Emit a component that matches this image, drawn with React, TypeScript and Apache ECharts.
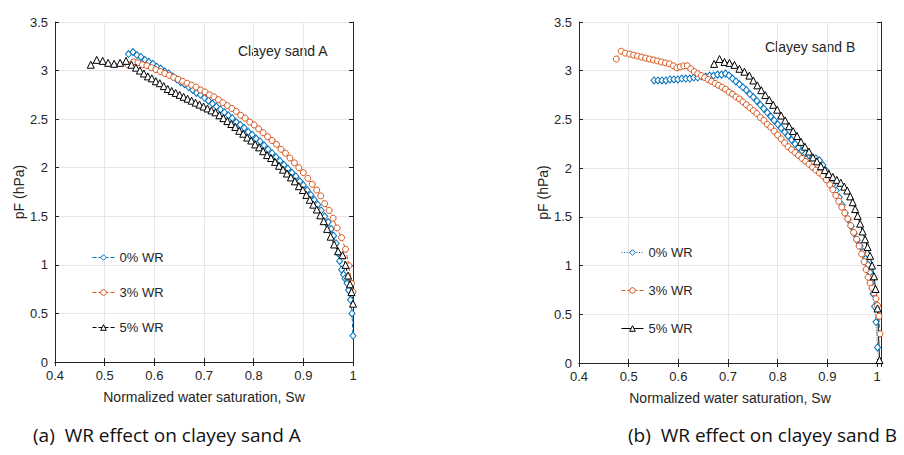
import React, { useEffect, useRef } from "react";
import * as echarts from "echarts";

// ---------- data: (Sw, pF) ----------
// Plot (a) clayey sand A
const A_WR0: [number, number][] = [
  [0.548, 3.17], [0.557, 3.19], [0.565, 3.16], [0.573, 3.14], [0.581, 3.11], [0.589, 3.09], [0.597, 3.07],
  [0.605, 3.04], [0.613, 3.02], [0.621, 2.99], [0.629, 2.97], [0.637, 2.94], [0.645, 2.91], [0.653, 2.88],
  [0.661, 2.86], [0.669, 2.83], [0.677, 2.8], [0.685, 2.77], [0.693, 2.75], [0.701, 2.72], [0.709, 2.69],
  [0.717, 2.66], [0.725, 2.63], [0.733, 2.6], [0.741, 2.57], [0.749, 2.54], [0.757, 2.51], [0.765, 2.47],
  [0.773, 2.44], [0.781, 2.41], [0.789, 2.37], [0.797, 2.34], [0.805, 2.3], [0.813, 2.27], [0.821, 2.23],
  [0.829, 2.19], [0.837, 2.15], [0.845, 2.11], [0.853, 2.07], [0.861, 2.03], [0.869, 1.99], [0.877, 1.95],
  [0.885, 1.91], [0.893, 1.86], [0.9, 1.82], [0.908, 1.77], [0.915, 1.72], [0.922, 1.67], [0.929, 1.62],
  [0.936, 1.56], [0.943, 1.5], [0.95, 1.44], [0.956, 1.37], [0.961, 1.3], [0.966, 1.22], [0.97, 1.12],
  [0.973, 1.04], [0.977, 0.95], [0.981, 0.9], [0.984, 0.86], [0.988, 0.81], [0.991, 0.74], [0.995, 0.64],
  [0.998, 0.5], [1.0, 0.27],
];
const A_WR3: [number, number][] = [
  [0.547, 3.06], [0.558, 3.09], [0.567, 3.08], [0.576, 3.06], [0.585, 3.05], [0.594, 3.03], [0.603, 3.01],
  [0.612, 2.99], [0.621, 2.97], [0.63, 2.95], [0.639, 2.93], [0.648, 2.91], [0.657, 2.89], [0.666, 2.87],
  [0.675, 2.85], [0.684, 2.83], [0.693, 2.8], [0.702, 2.78], [0.711, 2.75], [0.72, 2.73], [0.729, 2.7],
  [0.738, 2.67], [0.747, 2.64], [0.756, 2.61], [0.765, 2.58], [0.774, 2.54], [0.783, 2.51], [0.792, 2.47],
  [0.801, 2.44], [0.81, 2.4], [0.819, 2.36], [0.828, 2.32], [0.837, 2.28], [0.846, 2.24], [0.855, 2.19],
  [0.864, 2.15], [0.873, 2.1], [0.882, 2.05], [0.891, 2.0], [0.9, 1.95], [0.909, 1.89], [0.918, 1.83],
  [0.927, 1.77], [0.935, 1.71], [0.943, 1.63], [0.952, 1.56], [0.96, 1.48], [0.968, 1.38], [0.977, 1.28],
  [0.985, 1.16], [0.992, 0.99], [0.997, 0.81], [1.0, 0.72],
];
const A_WR5: [number, number][] = [
  [0.472, 3.06], [0.484, 3.11], [0.496, 3.1], [0.507, 3.08], [0.519, 3.07], [0.531, 3.08], [0.543, 3.1],
  [0.554, 3.06], [0.563, 3.03], [0.571, 3.0], [0.579, 2.97], [0.587, 2.94], [0.595, 2.92], [0.603, 2.89],
  [0.611, 2.87], [0.619, 2.84], [0.627, 2.81], [0.635, 2.79], [0.643, 2.77], [0.651, 2.75], [0.659, 2.73],
  [0.667, 2.71], [0.675, 2.69], [0.683, 2.67], [0.691, 2.65], [0.699, 2.63], [0.707, 2.61], [0.715, 2.59],
  [0.723, 2.57], [0.731, 2.54], [0.739, 2.51], [0.747, 2.48], [0.755, 2.45], [0.763, 2.42], [0.771, 2.38],
  [0.779, 2.35], [0.787, 2.31], [0.795, 2.28], [0.803, 2.24], [0.811, 2.21], [0.819, 2.17], [0.827, 2.13],
  [0.835, 2.1], [0.843, 2.06], [0.851, 2.02], [0.859, 1.98], [0.867, 1.94], [0.875, 1.9], [0.883, 1.86],
  [0.891, 1.81], [0.899, 1.77], [0.906, 1.72], [0.913, 1.67], [0.92, 1.62], [0.927, 1.57], [0.934, 1.51],
  [0.941, 1.45], [0.948, 1.37], [0.955, 1.29], [0.962, 1.21], [0.97, 1.14], [0.979, 1.1], [0.985, 1.0],
  [0.99, 0.89], [0.994, 0.8], [0.997, 0.72], [1.0, 0.6],
];

// Plot (b) clayey sand B
const B_WR0: [number, number][] = [
  [0.551, 2.9], [0.559, 2.9], [0.567, 2.9], [0.575, 2.9], [0.583, 2.91], [0.591, 2.91], [0.599, 2.91],
  [0.607, 2.92], [0.615, 2.92], [0.623, 2.92], [0.631, 2.93], [0.639, 2.93], [0.647, 2.94], [0.655, 2.94],
  [0.663, 2.95], [0.671, 2.95], [0.679, 2.96], [0.687, 2.96], [0.695, 2.97], [0.702, 2.95], [0.709, 2.92],
  [0.716, 2.89], [0.723, 2.86], [0.73, 2.83], [0.737, 2.8], [0.744, 2.76], [0.751, 2.73], [0.758, 2.69],
  [0.765, 2.65], [0.772, 2.61], [0.779, 2.57], [0.786, 2.53], [0.793, 2.49], [0.8, 2.45], [0.807, 2.41],
  [0.814, 2.37], [0.821, 2.33], [0.828, 2.29], [0.835, 2.25], [0.842, 2.21], [0.849, 2.18], [0.856, 2.15],
  [0.863, 2.13], [0.87, 2.11], [0.877, 2.1], [0.884, 2.08], [0.891, 2.03], [0.898, 1.97], [0.905, 1.91],
  [0.912, 1.84], [0.918, 1.77], [0.924, 1.7], [0.93, 1.62], [0.936, 1.54], [0.942, 1.47], [0.948, 1.4],
  [0.954, 1.33], [0.96, 1.26], [0.966, 1.2], [0.972, 1.14], [0.977, 1.07], [0.982, 1.01], [0.986, 0.93],
  [0.989, 0.83], [0.992, 0.71], [0.995, 0.58], [0.998, 0.42], [1.001, 0.16],
];
const B_WR3: [number, number][] = [
  [0.475, 3.12], [0.485, 3.2], [0.493, 3.18], [0.502, 3.17], [0.51, 3.16], [0.518, 3.15], [0.526, 3.14],
  [0.534, 3.13], [0.542, 3.12], [0.55, 3.11], [0.558, 3.1], [0.566, 3.09], [0.574, 3.08], [0.582, 3.07],
  [0.59, 3.05], [0.597, 3.03], [0.604, 3.04], [0.611, 3.05], [0.618, 3.05], [0.625, 3.02], [0.632, 2.99],
  [0.639, 2.97], [0.646, 2.95], [0.653, 2.93], [0.66, 2.91], [0.667, 2.89], [0.674, 2.87], [0.681, 2.85],
  [0.688, 2.83], [0.695, 2.81], [0.702, 2.78], [0.709, 2.76], [0.716, 2.73], [0.723, 2.71], [0.73, 2.68],
  [0.737, 2.65], [0.744, 2.62], [0.751, 2.59], [0.758, 2.56], [0.765, 2.52], [0.772, 2.49], [0.779, 2.45],
  [0.786, 2.42], [0.793, 2.38], [0.8, 2.34], [0.807, 2.3], [0.814, 2.26], [0.821, 2.22], [0.828, 2.19],
  [0.835, 2.16], [0.842, 2.13], [0.849, 2.1], [0.856, 2.07], [0.863, 2.04], [0.87, 2.01], [0.877, 1.98],
  [0.884, 1.95], [0.891, 1.92], [0.898, 1.88], [0.905, 1.83], [0.911, 1.78], [0.917, 1.72], [0.923, 1.66],
  [0.929, 1.6], [0.935, 1.54], [0.941, 1.48], [0.947, 1.41], [0.953, 1.34], [0.959, 1.27], [0.964, 1.2],
  [0.969, 1.12], [0.974, 1.04], [0.978, 0.96], [0.982, 0.88], [0.986, 0.82], [0.99, 0.77], [0.994, 0.72],
  [0.998, 0.66], [1.001, 0.59], [1.004, 0.48], [1.006, 0.3],
];
const B_WR5: [number, number][] = [
  [0.672, 3.07], [0.683, 3.12], [0.693, 3.09], [0.703, 3.08], [0.713, 3.06], [0.723, 3.02], [0.733, 2.99],
  [0.743, 2.95], [0.751, 2.9], [0.759, 2.85], [0.767, 2.8], [0.775, 2.75], [0.783, 2.7], [0.791, 2.65],
  [0.799, 2.6], [0.807, 2.54], [0.815, 2.49], [0.823, 2.43], [0.831, 2.38], [0.839, 2.33], [0.847, 2.27],
  [0.855, 2.22], [0.863, 2.17], [0.871, 2.11], [0.879, 2.07], [0.887, 2.02], [0.895, 1.98], [0.903, 1.94],
  [0.911, 1.91], [0.919, 1.88], [0.927, 1.85], [0.934, 1.81], [0.94, 1.77], [0.946, 1.71], [0.951, 1.65],
  [0.956, 1.58], [0.961, 1.51], [0.966, 1.43], [0.971, 1.35], [0.976, 1.27], [0.981, 1.19], [0.986, 1.1],
  [0.99, 1.0], [0.994, 0.89], [0.997, 0.76], [1.001, 0.56], [1.005, 0.03],
];

const LEGEND_LABELS = ["0% WR", "3% WR", "5% WR"];
const PANEL_TITLES = ["Clayey sand A", "Clayey sand B"];
const CAPTIONS = ["(a)  WR effect on clayey sand A", "(b)  WR effect on clayey sand B"];
const X_NAME = "Normalized water saturation, Sw";
const Y_NAME = "pF (hPa)";

const BLUE = "#0072BD";
const ORANGE = "#D95319";
const BLACK = "#000000";
const AXIS = "#262626";
const GRIDC = "#e6e6e6";
const FONT = "'Liberation Sans', Arial, Helvetica, sans-serif";
const CAP_FONT = "'Open Sans', 'Noto Sans', sans-serif";

function fmt(v: number) {
  if (v > 1.0001) return "";
  return String(+v.toFixed(2));
}

function xAxes(grid: number, max: number) {
  return [
    {
      gridIndex: grid, type: "value", min: 0.4, max, interval: 0.1, position: "bottom",
      name: X_NAME, nameLocation: "middle", nameGap: 28,
      nameTextStyle: { color: AXIS, fontSize: 14, fontFamily: FONT },
      axisLine: { show: true, lineStyle: { color: AXIS, width: 1 } },
      axisTick: { show: true, inside: true, length: 4, lineStyle: { color: AXIS } },
      axisLabel: { color: AXIS, fontSize: 13, fontFamily: FONT, margin: 7, formatter: fmt },
      splitLine: { show: true, lineStyle: { color: GRIDC, width: 1 } },
    },
    {
      gridIndex: grid, type: "value", min: 0.4, max, interval: 0.1, position: "top",
      axisLine: { show: true, lineStyle: { color: AXIS, width: 1 } },
      axisTick: { show: true, inside: true, length: 4, lineStyle: { color: AXIS } },
      axisLabel: { show: false },
      splitLine: { show: false },
    },
  ];
}

function yAxes(grid: number) {
  return [
    {
      gridIndex: grid, type: "value", min: 0, max: 3.5, interval: 0.5, position: "left",
      name: Y_NAME, nameLocation: "middle", nameGap: 26, nameRotate: 90,
      nameTextStyle: { color: AXIS, fontSize: 14, fontFamily: FONT },
      axisLine: { show: true, lineStyle: { color: AXIS, width: 1 } },
      axisTick: { show: true, inside: true, length: 4, lineStyle: { color: AXIS } },
      axisLabel: { color: AXIS, fontSize: 13, fontFamily: FONT, margin: 7 },
      splitLine: { show: true, lineStyle: { color: GRIDC, width: 1 } },
    },
    {
      gridIndex: grid, type: "value", min: 0, max: 3.5, interval: 0.5, position: "right",
      axisLine: { show: true, lineStyle: { color: AXIS, width: 1 } },
      axisTick: { show: true, inside: true, length: 4, lineStyle: { color: AXIS } },
      axisLabel: { show: false },
      splitLine: { show: false },
    },
  ];
}

function mkSeries(
  id: string, data: [number, number][], axis: number, color: string,
  symbol: string, size: number | number[], lineType: any
) {
  return {
    name: id, type: "line", xAxisIndex: axis, yAxisIndex: axis,
    data, symbol, symbolSize: size, showAllSymbol: true,
    lineStyle: { color, width: 1, type: lineType },
    itemStyle: { color: "#ffffff", borderColor: color, borderWidth: 1 },
    emphasis: { disabled: true },
    z: 3,
  };
}

export default function App() {
  const ref = useRef<HTMLDivElement>(null);
  useEffect(() => {
    if (!ref.current) return;
    const chart = echarts.init(ref.current, null, { renderer: "svg" });
    const names: Record<string, string> = {
      a0: LEGEND_LABELS[0], a3: LEGEND_LABELS[1], a5: LEGEND_LABELS[2],
      b0: LEGEND_LABELS[0], b3: LEGEND_LABELS[1], b5: LEGEND_LABELS[2],
    };
    const legendCommon = {
      orient: "vertical", itemWidth: 22, itemHeight: 7,
      textStyle: { color: AXIS, fontSize: 13, fontFamily: FONT },
      lineStyle: { width: 1 },
      itemStyle: { borderWidth: 1 },
      formatter: (n: string) => names[n],
      selectedMode: false,
    };
    chart.setOption({
      animation: false,
      backgroundColor: "#ffffff",
      grid: [
        { left: 55, top: 22, width: 298, height: 340, show: true, borderColor: AXIS, borderWidth: 0, backgroundColor: "#fff" },
        { left: 579, top: 22, width: 302, height: 341, show: true, borderColor: AXIS, borderWidth: 0, backgroundColor: "#fff" },
      ],
      xAxis: [...xAxes(0, 1.0), ...xAxes(1, 1.008)],
      yAxis: [...yAxes(0), ...yAxes(1)],
      legend: [
        { ...legendCommon, left: 87, top: 246, itemGap: 22, data: ["a0", "a3", "a5"] },
        { ...legendCommon, left: 616, top: 241, itemGap: 25, data: ["b0", "b3", "b5"] },
      ],
      series: [
        // panel a uses xAxis 0 / yAxis 0, panel b uses xAxis 2 / yAxis 2
        mkSeries("a0", A_WR0, 0, BLUE, "diamond", [6, 7], [4, 2]),
        mkSeries("a3", A_WR3, 0, ORANGE, "circle", 6, [4, 2]),
        mkSeries("a5", A_WR5, 0, BLACK, "triangle", 7, [4, 2]),
        mkSeries("b0", B_WR0, 2, BLUE, "diamond", [6, 7], [1, 1.5]),
        mkSeries("b3", B_WR3, 2, ORANGE, "circle", 6, [4, 2]),
        mkSeries("b5", B_WR5, 2, BLACK, "triangle", 7, "solid"),
      ],
      graphic: [
        { type: "text", left: 238, top: 44, style: { text: PANEL_TITLES[0], fill: AXIS, font: `14px ${FONT}` } },
        { type: "text", left: 765, top: 40, style: { text: PANEL_TITLES[1], fill: AXIS, font: `14px ${FONT}` } },
        { type: "text", left: 33, top: 425, style: { text: CAPTIONS[0], fill: "#111", font: `19px ${CAP_FONT}` } },
        { type: "text", left: 628, top: 425, style: { text: CAPTIONS[1], fill: "#111", font: `19px ${CAP_FONT}` } },
      ],
    });
    return () => chart.dispose();
  }, []);
  return <div ref={ref} style={{ width: 904, height: 455, position: "absolute", left: 0, top: 0 }} />;
}
